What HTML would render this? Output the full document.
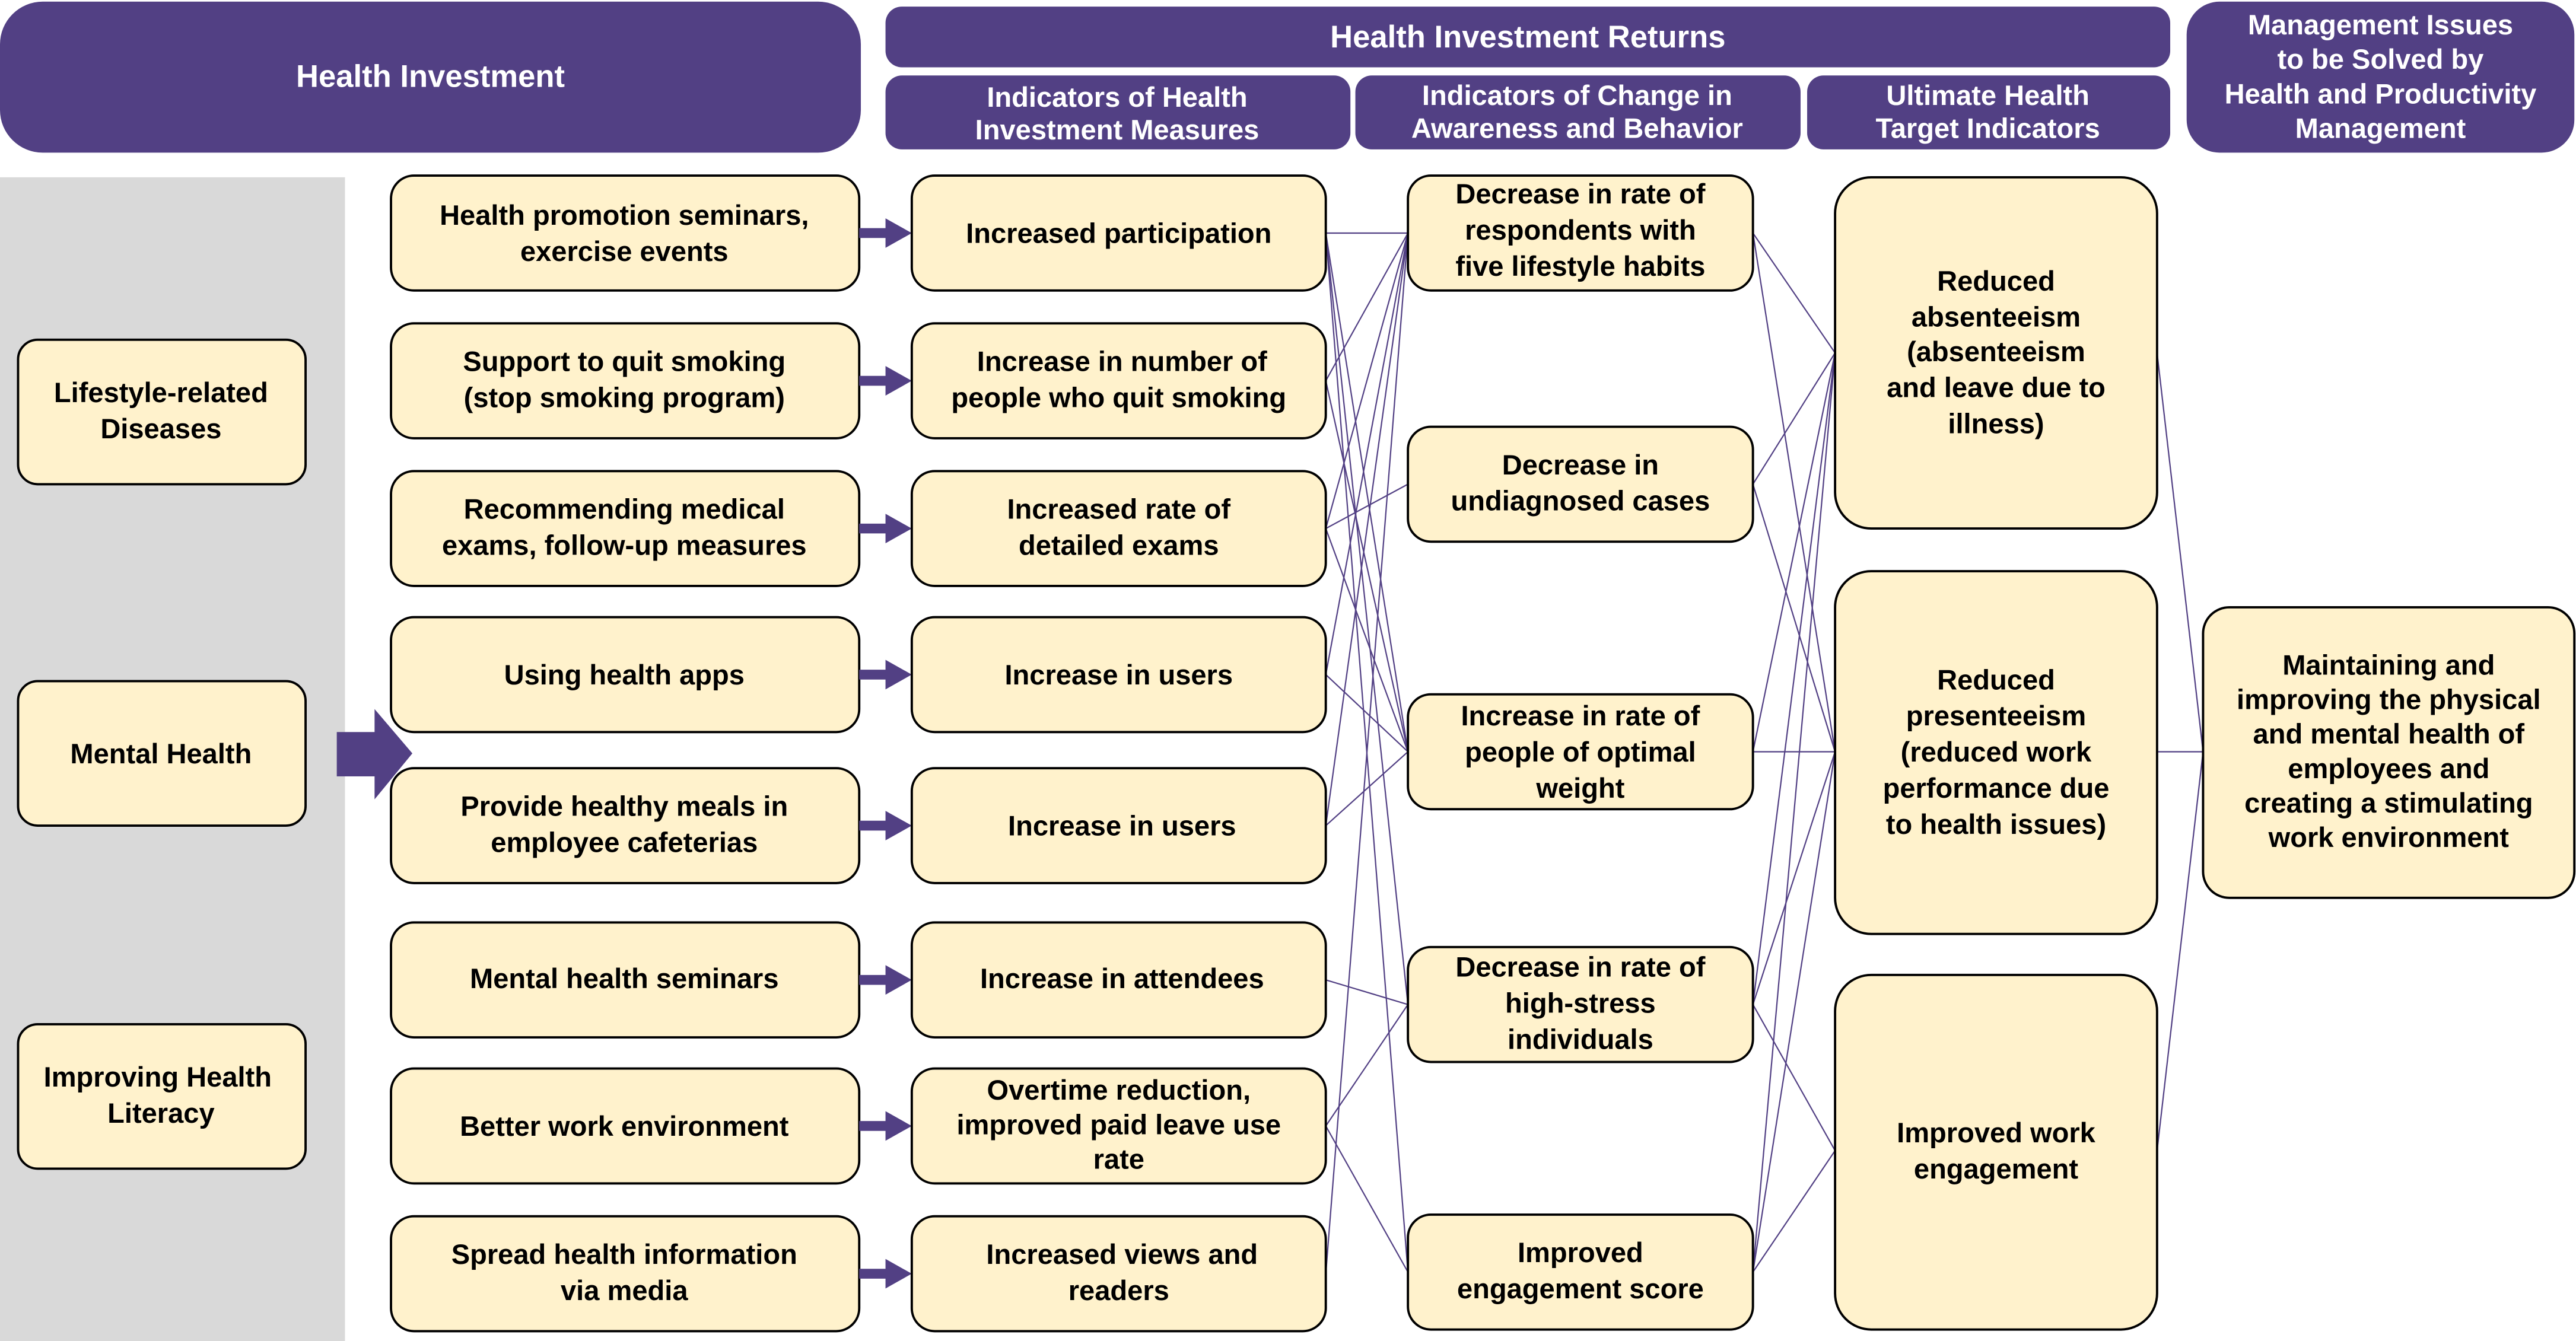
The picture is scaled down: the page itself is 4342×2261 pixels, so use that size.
<!DOCTYPE html>
<html><head><meta charset="utf-8"><style>
html,body{margin:0;padding:0;background:#fff;}
svg{display:block;}
text{font-family:"Liberation Sans","DejaVu Sans",sans-serif;font-weight:bold;}
.b{fill:#fff2cc;stroke:#000;stroke-width:1.4;}
.h{fill:#524084;}
.t{font-size:17px;fill:#000;text-anchor:middle;}
.w{font-size:17px;fill:#fff;text-anchor:middle;}
.l{stroke:#524084;stroke-width:0.8;fill:none;}
</style></head><body>
<svg width="4342" height="2261" viewBox="0 0 1568 817" preserveAspectRatio="none" xmlns="http://www.w3.org/2000/svg">
<rect x="0" y="108" width="210" height="709" fill="#d9d9d9"/>
<!-- headers -->
<rect class="h" x="0" y="1" width="524" height="92" rx="26"/>
<text class="w" x="262" y="53" style="font-size:19px">Health Investment</text>
<rect class="h" x="539" y="4" width="782" height="37" rx="10"/>
<text class="w" x="930" y="29" style="font-size:19px">Health Investment Returns</text>
<rect class="h" x="539" y="46" width="283" height="45" rx="10"/>
<text class="w" x="680" y="65">Indicators of Health</text><text class="w" x="680" y="85">Investment Measures</text>
<rect class="h" x="825" y="46" width="271" height="45" rx="10"/>
<text class="w" x="960" y="64">Indicators of Change in</text><text class="w" x="960" y="84">Awareness and Behavior</text>
<rect class="h" x="1100" y="46" width="221" height="45" rx="10"/>
<text class="w" x="1210" y="64">Ultimate Health</text><text class="w" x="1210" y="84">Target Indicators</text>
<rect class="h" x="1331" y="1" width="236" height="92" rx="20"/>
<text class="w" x="1449" y="21">Management Issues</text><text class="w" x="1449" y="42">to be Solved by</text><text class="w" x="1449" y="63">Health and Productivity</text><text class="w" x="1449" y="84">Management</text>

<!-- connectors -->
<g class="l">
<line x1="807" y1="142" x2="857" y2="142"/><line x1="807" y1="142" x2="857" y2="458"/><line x1="807" y1="142" x2="857" y2="612"/><line x1="807" y1="142" x2="857" y2="775"/>
<line x1="807" y1="232" x2="857" y2="142"/><line x1="807" y1="232" x2="857" y2="458"/>
<line x1="807" y1="322" x2="857" y2="142"/><line x1="807" y1="322" x2="857" y2="295"/><line x1="807" y1="322" x2="857" y2="458"/>
<line x1="807" y1="411" x2="857" y2="142"/><line x1="807" y1="411" x2="857" y2="458"/>
<line x1="807" y1="503" x2="857" y2="142"/><line x1="807" y1="503" x2="857" y2="458"/>
<line x1="807" y1="597" x2="857" y2="612"/>
<line x1="807" y1="686" x2="857" y2="612"/><line x1="807" y1="686" x2="857" y2="775"/>
<line x1="807" y1="776" x2="857" y2="142"/>
<line x1="1067" y1="142" x2="1117" y2="215"/><line x1="1067" y1="142" x2="1117" y2="458"/>
<line x1="1067" y1="295" x2="1117" y2="215"/><line x1="1067" y1="295" x2="1117" y2="458"/>
<line x1="1067" y1="458" x2="1117" y2="215"/><line x1="1067" y1="458" x2="1117" y2="458"/>
<line x1="1067" y1="612" x2="1117" y2="215"/><line x1="1067" y1="612" x2="1117" y2="458"/><line x1="1067" y1="612" x2="1117" y2="701"/>
<line x1="1067" y1="775" x2="1117" y2="215"/><line x1="1067" y1="775" x2="1117" y2="458"/><line x1="1067" y1="775" x2="1117" y2="701"/>
<line x1="1313" y1="215" x2="1341" y2="458"/><line x1="1313" y1="458" x2="1341" y2="458"/><line x1="1313" y1="701" x2="1341" y2="458"/>
</g>

<!-- left category -->
<rect class="b" x="11" y="207" width="175" height="88" rx="12"/>
<text class="t" x="98" y="245">Lifestyle-related</text><text class="t" x="98" y="267">Diseases</text>
<rect class="b" x="11" y="415" width="175" height="88" rx="12"/>
<text class="t" x="98" y="465">Mental Health</text>
<rect class="b" x="11" y="624" width="175" height="88" rx="12"/>
<text class="t" x="96" y="662">Improving Health</text><text class="t" x="98" y="684">Literacy</text>
<polygon points="205,446 228,446 228,432 251,459 228,487 228,473 205,473" fill="#524084"/>

<!-- col1 -->
<g>
<rect class="b" x="238" y="107" width="285" height="70" rx="14"/><text class="t" x="380" y="137">Health promotion seminars,</text><text class="t" x="380" y="159">exercise events</text>
<rect class="b" x="238" y="197" width="285" height="70" rx="14"/><text class="t" x="380" y="226">Support to quit smoking</text><text class="t" x="380" y="248">(stop smoking program)</text>
<rect class="b" x="238" y="287" width="285" height="70" rx="14"/><text class="t" x="380" y="316">Recommending medical</text><text class="t" x="380" y="338">exams, follow-up measures</text>
<rect class="b" x="238" y="376" width="285" height="70" rx="14"/><text class="t" x="380" y="417">Using health apps</text>
<rect class="b" x="238" y="468" width="285" height="70" rx="14"/><text class="t" x="380" y="497">Provide healthy meals in</text><text class="t" x="380" y="519">employee cafeterias</text>
<rect class="b" x="238" y="562" width="285" height="70" rx="14"/><text class="t" x="380" y="602">Mental health seminars</text>
<rect class="b" x="238" y="651" width="285" height="70" rx="14"/><text class="t" x="380" y="692">Better work environment</text>
<rect class="b" x="238" y="741" width="285" height="70" rx="14"/><text class="t" x="380" y="770">Spread health information</text><text class="t" x="380" y="792">via media</text>
</g>
<!-- small arrows -->
<g fill="#524084">
<polygon points="523,139 539,139 539,133 555,142 539,151 539,145 523,145"/>
<polygon points="523,229 539,229 539,223 555,232 539,241 539,235 523,235"/>
<polygon points="523,319 539,319 539,313 555,322 539,331 539,325 523,325"/>
<polygon points="523,408 539,408 539,402 555,411 539,420 539,414 523,414"/>
<polygon points="523,500 539,500 539,494 555,503 539,512 539,506 523,506"/>
<polygon points="523,594 539,594 539,588 555,597 539,606 539,600 523,600"/>
<polygon points="523,683 539,683 539,677 555,686 539,695 539,689 523,689"/>
<polygon points="523,773 539,773 539,767 555,776 539,785 539,779 523,779"/>
</g>
<!-- col2 -->
<rect class="b" x="555" y="107" width="252" height="70" rx="14"/><text class="t" x="681" y="148">Increased participation</text>
<rect class="b" x="555" y="197" width="252" height="70" rx="14"/><text class="t" x="683" y="226">Increase in number of</text><text class="t" x="681" y="248">people who quit smoking</text>
<rect class="b" x="555" y="287" width="252" height="70" rx="14"/><text class="t" x="681" y="316">Increased rate of</text><text class="t" x="681" y="338">detailed exams</text>
<rect class="b" x="555" y="376" width="252" height="70" rx="14"/><text class="t" x="681" y="417">Increase in users</text>
<rect class="b" x="555" y="468" width="252" height="70" rx="14"/><text class="t" x="683" y="509">Increase in users</text>
<rect class="b" x="555" y="562" width="252" height="70" rx="14"/><text class="t" x="683" y="602">Increase in attendees</text>
<rect class="b" x="555" y="651" width="252" height="70" rx="14"/><text class="t" x="681" y="670">Overtime reduction,</text><text class="t" x="681" y="691">improved paid leave use</text><text class="t" x="681" y="712">rate</text>
<rect class="b" x="555" y="741" width="252" height="70" rx="14"/><text class="t" x="683" y="770">Increased views and</text><text class="t" x="681" y="792">readers</text>
<!-- col3 -->
<rect class="b" x="857" y="107" width="210" height="70" rx="14"/><text class="t" x="962" y="124">Decrease in rate of</text><text class="t" x="962" y="146">respondents with</text><text class="t" x="962" y="168">five lifestyle habits</text>
<rect class="b" x="857" y="260" width="210" height="70" rx="14"/><text class="t" x="962" y="289">Decrease in</text><text class="t" x="962" y="311">undiagnosed cases</text>
<rect class="b" x="857" y="423" width="210" height="70" rx="14"/><text class="t" x="962" y="442">Increase in rate of</text><text class="t" x="962" y="464">people of optimal</text><text class="t" x="962" y="486">weight</text>
<rect class="b" x="857" y="577" width="210" height="70" rx="14"/><text class="t" x="962" y="595">Decrease in rate of</text><text class="t" x="962" y="617">high-stress</text><text class="t" x="962" y="639">individuals</text>
<rect class="b" x="857" y="740" width="210" height="70" rx="14"/><text class="t" x="962" y="769">Improved</text><text class="t" x="962" y="791">engagement score</text>
<!-- col4 -->
<rect class="b" x="1117" y="108" width="196" height="214" rx="22"/>
<text class="t" x="1215" y="177">Reduced</text><text class="t" x="1215" y="199">absenteeism</text><text class="t" x="1215" y="220">(absenteeism</text><text class="t" x="1215" y="242">and leave due to</text><text class="t" x="1215" y="264">illness)</text>
<rect class="b" x="1117" y="348" width="196" height="221" rx="22"/>
<text class="t" x="1215" y="420">Reduced</text><text class="t" x="1215" y="442">presenteeism</text><text class="t" x="1215" y="464">(reduced work</text><text class="t" x="1215" y="486">performance due</text><text class="t" x="1215" y="508">to health issues)</text>
<rect class="b" x="1117" y="594" width="196" height="216" rx="22"/>
<text class="t" x="1215" y="696">Improved work</text><text class="t" x="1215" y="718">engagement</text>
<!-- col5 -->
<rect class="b" x="1341" y="370" width="226" height="177" rx="16"/>
<text class="t" x="1454" y="411">Maintaining and</text><text class="t" x="1454" y="432">improving the physical</text><text class="t" x="1454" y="453">and mental health of</text><text class="t" x="1454" y="474">employees and</text><text class="t" x="1454" y="495">creating a stimulating</text><text class="t" x="1454" y="516">work environment</text>
</svg>
</body></html>
